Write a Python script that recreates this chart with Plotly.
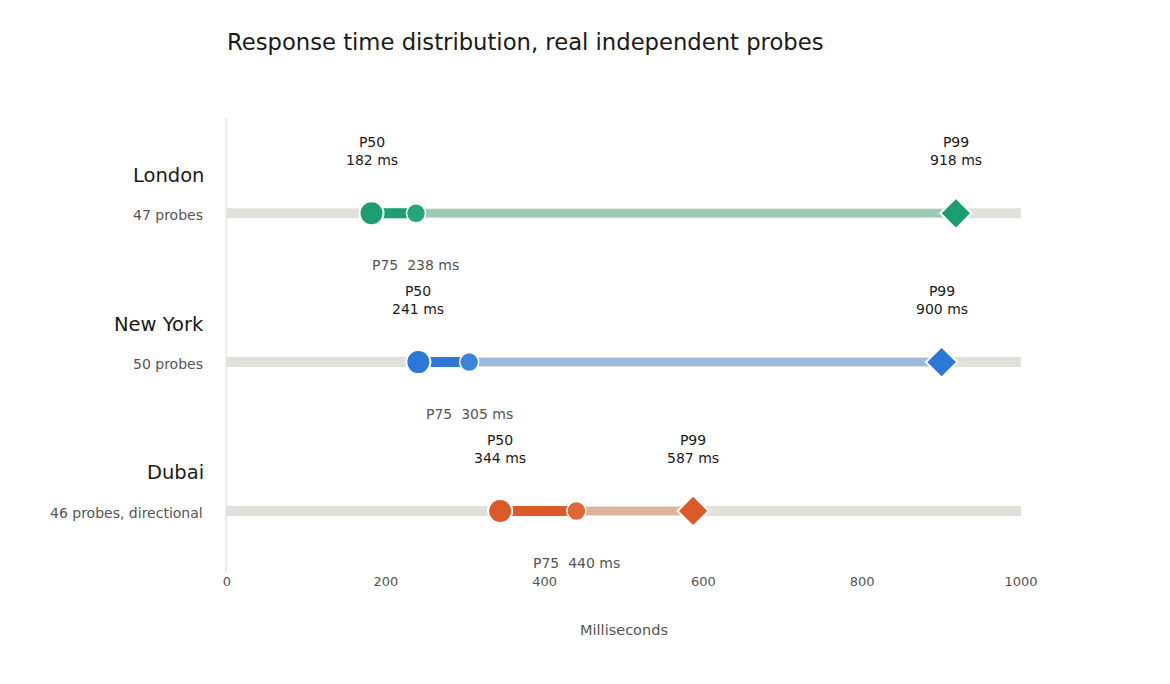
import plotly.graph_objects as go

cities = ["London", "New York", "Dubai"]
probe_labels = ["47 probes", "50 probes", "46 probes, directional"]
p50 = [182, 241, 344]
p75 = [238, 305, 440]
p99 = [918, 900, 587]
main_colors = ["#1b9e72", "#2b78d6", "#db5a2a"]
p75_colors = ["#26a578", "#3a84dc", "#df6636"]
light_colors = ["#9ccab5", "#9fb9da", "#e2b19b"]
track_color = "#e1e1dc"
x_max = 1000
x_ticks = [0, 200, 400, 600, 800, 1000]

FONT = "DejaVu Sans, sans-serif"
fig = go.Figure()
ann = []

for i, city in enumerate(cities):
    y = i
    # background track
    fig.add_trace(go.Scatter(x=[0, x_max], y=[y, y], mode="lines",
                             line=dict(color=track_color, width=10),
                             hoverinfo="skip", showlegend=False))
    # P75 -> P99 segment
    fig.add_trace(go.Scatter(x=[p75[i], p99[i]], y=[y, y], mode="lines",
                             line=dict(color=light_colors[i], width=8),
                             hoverinfo="skip", showlegend=False))
    # P50 -> P75 segment
    fig.add_trace(go.Scatter(x=[p50[i], p75[i]], y=[y, y], mode="lines",
                             line=dict(color=main_colors[i], width=10),
                             hoverinfo="skip", showlegend=False))
    # P99 diamond
    fig.add_trace(go.Scatter(x=[p99[i]], y=[y], mode="markers",
                             marker=dict(symbol="diamond", size=24, color=main_colors[i],
                                         line=dict(color="white", width=2)),
                             hoverinfo="skip", showlegend=False))
    # P75 circle
    fig.add_trace(go.Scatter(x=[p75[i]], y=[y], mode="markers",
                             marker=dict(symbol="circle", size=19, color=p75_colors[i],
                                         line=dict(color="white", width=1.5)),
                             hoverinfo="skip", showlegend=False))
    # P50 circle
    fig.add_trace(go.Scatter(x=[p50[i]], y=[y], mode="markers",
                             marker=dict(symbol="circle", size=24, color=main_colors[i],
                                         line=dict(color="white", width=2)),
                             hoverinfo="skip", showlegend=False))

    ann.append(dict(x=0, xref="paper", y=y, yref="y", text=city, showarrow=False,
                    xanchor="right", yanchor="middle", xshift=-21, yshift=38,
                    font=dict(family=FONT, size=19.5, color="#1a1a1a")))
    ann.append(dict(x=0, xref="paper", y=y, yref="y", text=probe_labels[i], showarrow=False,
                    xanchor="right", yanchor="middle", xshift=-22, yshift=-2,
                    font=dict(family=FONT, size=14, color="#555555")))
    ann.append(dict(x=p50[i], y=y, text=f"P50<br>{p50[i]} ms", showarrow=False,
                    xanchor="center", yanchor="middle", yshift=62,
                    font=dict(family=FONT, size=14, color="#1a1a1a")))
    ann.append(dict(x=p99[i], y=y, text=f"P99<br>{p99[i]} ms", showarrow=False,
                    xanchor="center", yanchor="middle", yshift=62,
                    font=dict(family=FONT, size=14, color="#1a1a1a")))
    ann.append(dict(x=p75[i], y=y, text=f"P75  {p75[i]} ms", showarrow=False,
                    xanchor="center", yanchor="middle", yshift=-52,
                    font=dict(family=FONT, size=14, color="#555555")))

fig.update_layout(
    width=1170, height=684,
    margin=dict(l=227, r=149, t=118, b=112),
    paper_bgcolor="white", plot_bgcolor="white",
    title=dict(text="Response time distribution, real independent probes",
               x=227 / 1170, xanchor="left", y=1 - 42 / 684, yanchor="middle",
               font=dict(family=FONT, size=22.7, color="#1a1a1a")),
    xaxis=dict(range=[0, x_max], tickvals=x_ticks, showgrid=False, zeroline=False,
               showline=False, ticks="",
               tickfont=dict(family=FONT, size=13, color="#555555"),
               title=dict(text="Milliseconds", standoff=36,
                          font=dict(family=FONT, size=14.5, color="#555555"))),
    yaxis=dict(range=[2.41, -0.64], showticklabels=False, showgrid=False,
               zeroline=False, showline=True, linecolor="#ebebeb", linewidth=2,
               ticks=""),
    annotations=ann,
    font=dict(family=FONT),
)

fig.write_html("out.html")
